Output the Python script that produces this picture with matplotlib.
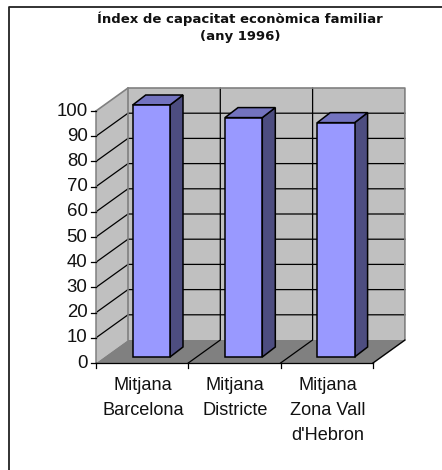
import matplotlib
matplotlib.use('Agg')
import matplotlib.pyplot as plt
from matplotlib.patches import Polygon

categories = ['Mitjana\nBarcelona', 'Mitjana\nDistricte', 'Mitjana\nZona Vall\nd\'Hebron']
values = [100, 95, 93]
yticks = list(range(0, 101, 10))
title = 'Índex de capacitat econòmica familiar\n(any 1996)'

plt.rcParams['font.family'] = ['Liberation Sans', 'DejaVu Sans']

W, H = 442, 470
# front plot corner in pixels and scale of the two axes
x0_px, y0_px = 96, 363
cat_px, val_px = 92.3, 2.52

# depth of the box and the bars, in data units
DX, DY = 32 / cat_px, 23 / val_px
BDX, BDY = 13 / cat_px, 10 / val_px
FRONT_DX, FRONT_DY = 8.3 / cat_px, 6 / val_px
BAR_L, BAR_W = 28.4 / cat_px, 37.3 / cat_px

fig = plt.figure(figsize=(W / 100, H / 100), dpi=100)
ax = fig.add_axes([0, 0, 1, 1])
ax.set_xlim(-x0_px / cat_px, (W - x0_px) / cat_px)
ax.set_ylim(-(H - y0_px) / val_px, y0_px / val_px)
ax.axis('off')

n = len(values)
ymax = yticks[-1]


def poly(pts, fc, ec='none', lw=0, z=1):
    ax.add_patch(Polygon(pts, closed=True, fc=fc, ec=ec, lw=lw, zorder=z, joinstyle='miter'))


def to_x(px):
    return (px - x0_px) / cat_px


def to_y(px):
    return (y0_px - px) / val_px


# chart frame, cut by the image on the right and at the bottom
ax.plot([to_x(8.5), to_x(8.5), to_x(W)], [to_y(H), to_y(7.5), to_y(7.5)], color='#222222', lw=1.3, zorder=1)

# walls and floor
poly([(0, 0), (DX, DY), (DX, ymax + DY), (0, ymax)], '#c0c0c0')
poly([(DX, DY), (n + DX, DY), (n + DX, ymax + DY), (DX, ymax + DY)], '#c0c0c0')
poly([(0, 0), (n, 0), (n + DX, DY), (DX, DY)], '#808080')

# gridlines
for t in yticks[1:-1]:
    ax.plot([0, DX, n + DX], [t, t + DY, t + DY], color='black', lw=0.9, zorder=2)
for i in range(1, n):
    ax.plot([i, i + DX, i + DX], [0, DY, ymax + DY], color='black', lw=0.9, zorder=2)
# grey wall edges
ax.plot([0, DX, n + DX, n + DX, n], [ymax, ymax + DY, ymax + DY, DY, 0], color='#808080', lw=1.2, zorder=2)
ax.plot([DX, DX], [DY, ymax + DY], color='#808080', lw=1.2, zorder=2)
ax.plot([n, n + DX], [0, DY], color='black', lw=0.9, zorder=2)

# bars
for i, v in enumerate(values):
    l = i + BAR_L + FRONT_DX
    r = l + BAR_W
    b = FRONT_DY
    t = v + FRONT_DY
    poly([(r, b), (r + BDX, b + BDY), (r + BDX, t + BDY), (r, t)], '#4d4d80', 'black', 1.1, 3)
    poly([(l, t), (r, t), (r + BDX, t + BDY), (l + BDX, t + BDY)], '#7373bf', 'black', 1.1, 3)
    poly([(l, b), (r, b), (r, t), (l, t)], '#9999ff', 'black', 1.1, 4)

# axis lines, ticks and labels
tick_x = 5 / cat_px
tick_y = 5 / val_px
ax.plot([0, 0], [0, ymax], color='#808080', lw=1.1, zorder=5)
ax.plot([0, n], [0, 0], color='black', lw=0.9, zorder=5)
for t in yticks:
    ax.plot([-tick_x, 0], [t, t], color='black', lw=0.9, zorder=5)
    ax.text(to_x(87.5), t, str(t), ha='right', va='center', fontsize=13.4, color='#111111')
for i in range(n + 1):
    ax.plot([i, i], [0, -tick_y], color='black', lw=0.9, zorder=5)
for i, c in enumerate(categories):
    ax.text(i + 0.51, to_y(377.5), c, ha='center', va='top', fontsize=13.1, linespacing=1.58, color='#111111')

ax.text(to_x(240), to_y(12), title, ha='center', va='top', fontsize=9.5, fontweight='bold',
        family='DejaVu Sans', linespacing=1.35, color='#111111')

fig.savefig('out.png', dpi=100)
